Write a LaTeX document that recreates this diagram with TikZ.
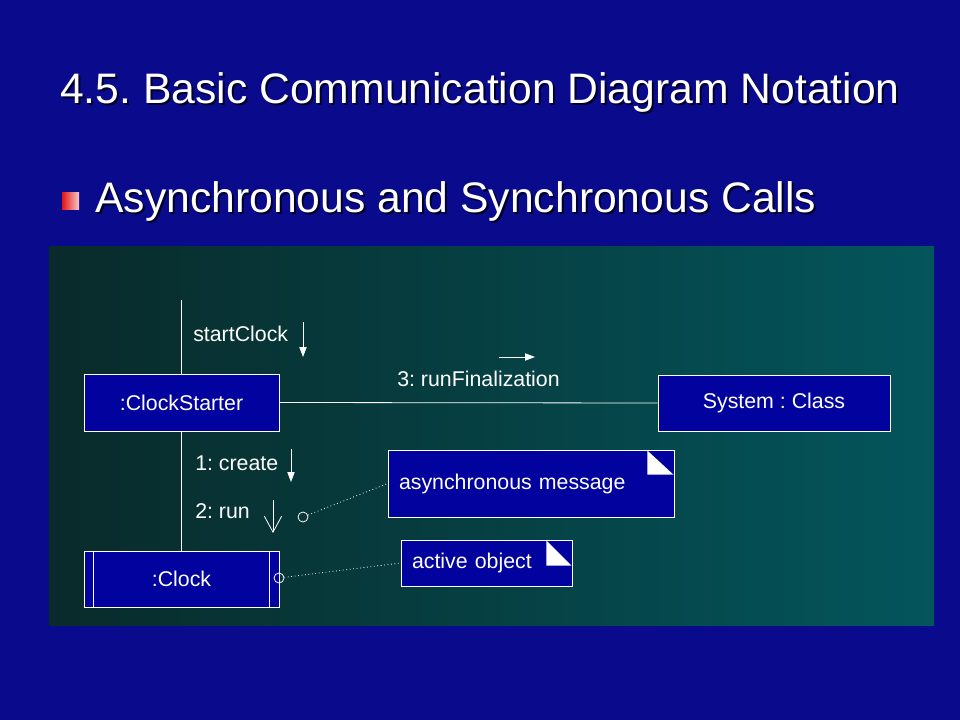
\documentclass[tikz,border=0pt]{standalone}
\usepackage{fontspec}
\setmainfont{Liberation Sans}
\frenchspacing
\usetikzlibrary{arrows.meta,calc}
\definecolor{slidebg}{RGB}{10,10,140}
\definecolor{panelL}{RGB}{9,42,42}
\definecolor{panelR}{RGB}{3,86,92}
\definecolor{boxfill}{RGB}{2,2,158}
\definecolor{shadowc}{RGB}{0,0,40}
\definecolor{bulletL}{RGB}{225,20,20}
\definecolor{bulletR}{RGB}{250,200,200}
\tikzset{
  objbox/.style={draw=white, line width=0.6pt, fill=boxfill, text=white, font=\fontsize{16}{19}\selectfont, inner sep=0pt},
  notebox/.style={objbox, align=left, inner xsep=8.25pt},
  lbl/.style={text=white, font=\fontsize{16}{19}\selectfont, inner sep=0pt, anchor=base west},
  link/.style={draw=white, line width=0.6pt},
  dotlink/.style={draw=white, line width=0.6pt, dotted},
  msgarrow/.style={draw=white, line width=0.6pt, -{Triangle[length=7.5pt,width=5.5pt]}},
  asyncarrow/.style={draw=white, line width=0.6pt, -{Straight Barb[length=12pt,width=13pt]}},
  lolly/.style={circle, draw=white, line width=0.6pt, minimum size=7.5pt, inner sep=0pt},
  ttl/.style={text=white, font=\fontsize{32}{38}\selectfont, inner sep=0pt, anchor=base west},
  ttlshadow/.style={text=shadowc, font=\fontsize{32}{38}\selectfont, inner sep=0pt, anchor=base west},
}
\begin{document}
\begin{tikzpicture}[x=0.75pt,y=-0.75pt]
\useasboundingbox (0,0) rectangle (960,720);
\fill[slidebg] (0,0) rectangle (960,720);
% title
\node[ttlshadow] (titleS) at (62,106) {4.5. Basic Communication Diagram Notation};
\node[ttl] (title) at (60,104) {4.5. Basic Communication Diagram Notation};
% bullet
\shade[left color=bulletL, right color=bulletR] (62,193) rectangle (79,210);
\node[ttlshadow] (subS) at (97,215) {Asynchronous and Synchronous Calls};
\node[ttl] (sub) at (95,213) {Asynchronous and Synchronous Calls};
% panel
\shade[left color=panelL, right color=panelR] (49,247) rectangle (934,625);
% objects
\node[objbox, minimum width=146.25pt, minimum height=42.75pt] (starter) at (181.5,402.5) {:ClockStarter};
\node[objbox, minimum width=174pt, minimum height=42pt] (system) at (774,403) {System : Class};
\node[objbox, minimum width=146.25pt, minimum height=42pt] (clock) at (181.5,579) {:Clock};
\draw[link] ($(clock.north west)+(10,0)$) -- ($(clock.south west)+(10,0)$);
\draw[link] ($(clock.north east)+(-10,0)$) -- ($(clock.south east)+(-10,0)$);
% notes
\node[notebox, text width=198pt, minimum height=50.25pt] (async) at (531,483.5) {asynchronous message};
\fill[white] ($(async.north east)+(-27,1)$) -- ($(async.north east)+(-27,25)$) -- ($(async.north east)+(-1,25)$) -- cycle;
\node[notebox, text width=111.75pt, minimum height=34.5pt] (active) at (486.5,563) {active object};
\fill[white] ($(active.north east)+(-26,1)$) -- ($(active.north east)+(-26,26)$) -- ($(active.north east)+(-1,26)$) -- cycle;
% links
\coordinate (top) at (181.5,300);
\draw[link] (top) -- (starter.north);
\draw[link] (starter.south) -- (clock.north);
\draw[link] (starter.east) -- (system.west);
% message labels
\node[lbl] (l0) at (193,341) {startClock};
\coordinate (a0s) at (303,322);
\coordinate (a0e) at (303,357);
\draw[msgarrow] (a0s) -- (a0e);
\node[lbl] (l3) at (397,386) {3: runFinalization};
\coordinate (a3s) at (499,357);
\coordinate (a3e) at (535,357);
\draw[msgarrow] (a3s) -- (a3e);
\node[lbl] (l1) at (195,470) {1: create};
\coordinate (a1s) at (291,449);
\coordinate (a1e) at (291,482);
\draw[msgarrow] (a1s) -- (a1e);
\node[lbl] (l2) at (195,518) {2: run};
\coordinate (a2s) at (273,500);
\coordinate (a2e) at (273,533);
\draw[asyncarrow] (a2s) -- (a2e);
% lollipops
\node[lolly] (c1) at (303,517) {};
\draw[dotlink] (c1) -- (async.west);
\node[lolly] (c2) at (279,578) {};
\draw[dotlink] (c2) -- (active.west);
\end{tikzpicture}
\end{document}
